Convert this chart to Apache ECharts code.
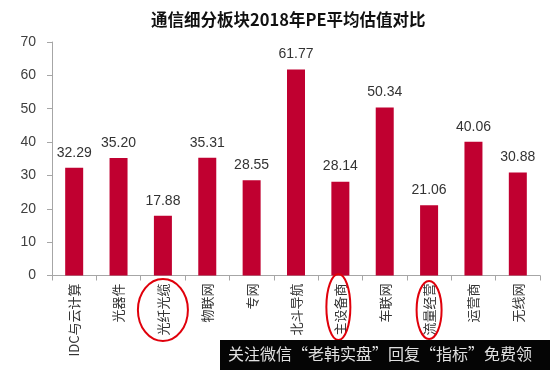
<!DOCTYPE html>
<html>
<head>
<meta charset="utf-8">
<script src="https://cdn.jsdelivr.net/npm/echarts@6/dist/echarts.min.js"></script>
<style>html,body{margin:0;padding:0;background:#fff;}#c{width:550px;height:370px;}</style>
</head>
<body>
<div id="c"></div>
<script>
var titleText = '通信细分板块2018年PE平均估值对比';
var categories = ['IDC与云计算', '光器件', '光纤光缆', '物联网', '专网', '北斗导航', '主设备商', '车联网', '流量经营', '运营商', '无线网'];
var peValues = [32.29, 35.20, 17.88, 35.31, 28.55, 61.77, 28.14, 50.34, 21.06, 40.06, 30.88];
var yTicks = [0, 10, 20, 30, 40, 50, 60, 70];
var circled = ['光纤光缆', '主设备商', '流量经营'];
var watermark = '关注微信“老韩实盘”回复“指标”免费领';

var FONT = '"Liberation Sans", Arial, "Noto Sans CJK SC", sans-serif';
var CJK = '"Noto Sans CJK SC", "Liberation Sans", sans-serif';

var chart = echarts.init(document.getElementById('c'));
chart.setOption({
  animation: false,
  backgroundColor: '#ffffff',
  title: {
    text: titleText,
    left: 146, top: 6,
    textStyle: { fontFamily: CJK, fontSize: 16.5, fontWeight: 'bold', color: '#111111' }
  },
  grid: { left: 52, right: 10, top: 42, bottom: 94.5, containLabel: false },
  xAxis: {
    type: 'category',
    data: categories,
    axisLine: { show: true, lineStyle: { color: '#a6a6a6', width: 1 } },
    axisTick: { show: true, inside: false, length: 5, alignWithLabel: false, lineStyle: { color: '#a6a6a6' } },
    axisLabel: { rotate: 90, interval: 0, margin: 8, fontFamily: CJK, fontSize: 13, color: '#333333' }
  },
  yAxis: {
    type: 'value',
    min: yTicks[0], max: yTicks[yTicks.length - 1], interval: 10,
    splitLine: { show: false },
    axisLine: { show: true, lineStyle: { color: '#a6a6a6', width: 1 } },
    axisTick: { show: true, length: 5, lineStyle: { color: '#a6a6a6' } },
    axisLabel: { margin: 16, fontFamily: FONT, fontSize: 14, color: '#404040' }
  },
  series: [{
    type: 'bar',
    data: peValues,
    barWidth: 18,
    itemStyle: { color: '#C00030' },
    label: {
      show: true, position: 'top', distance: 8,
      fontFamily: FONT, fontSize: 14, color: '#333333',
      formatter: function (p) { return p.value.toFixed(2); }
    }
  }]
});

// annotations: red ellipses around circled category labels, and watermark bar
var offsets = { '光纤光缆': [0, 310, 25, 31], '主设备商': [-2, 307, 12, 33], '流量经营': [0, 310, 12.5, 29] };
var graphics = [];
circled.forEach(function (name) {
  var cx = chart.convertToPixel({ xAxisIndex: 0 }, name);
  var o = offsets[name];
  graphics.push({
    type: 'ellipse', z: 100,
    shape: { cx: cx + o[0], cy: o[1], rx: o[2], ry: o[3] },
    style: { fill: null, stroke: '#E0000B', lineWidth: 2 }
  });
});
graphics.push({
  type: 'rect', z: 200,
  shape: { x: 220, y: 340, width: 330, height: 30 },
  style: { fill: '#050505' }
});
graphics.push({
  type: 'text', z: 201,
  left: 228, top: 346,
  style: { text: watermark, fill: '#e0e0e0', font: '16px "Noto Sans CJK SC", sans-serif' }
});
chart.setOption({ graphic: graphics });
</script>
</body>
</html>
